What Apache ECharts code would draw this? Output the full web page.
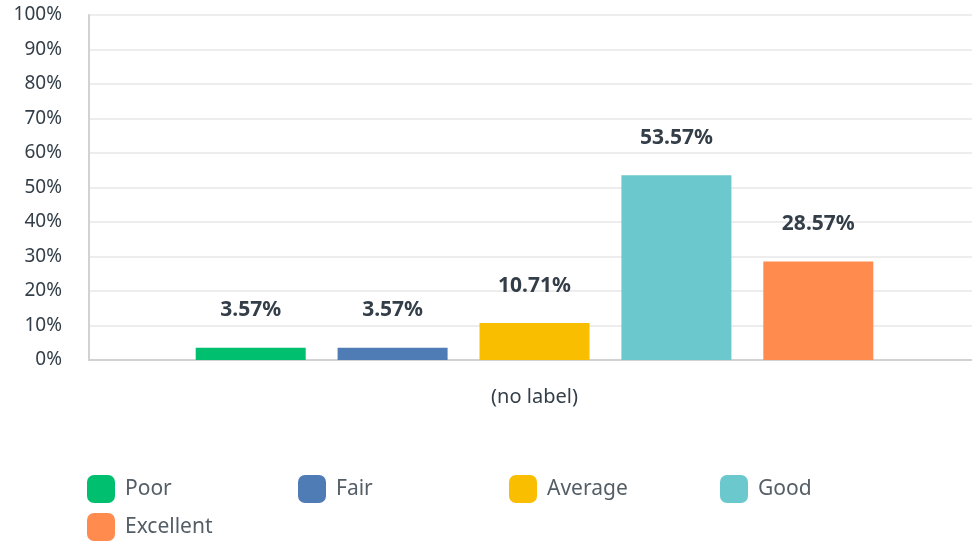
<!DOCTYPE html>
<html>
<head>
<meta charset="utf-8">
<script src="https://cdn.jsdelivr.net/npm/echarts@6/dist/echarts.min.js"></script>
<style>
  html, body { margin: 0; padding: 0; background: #fff; }
  #chart { width: 972px; height: 542px; }
</style>
</head>
<body>
<div id="chart"></div>
<script>
// Rating breakdown for a single unnamed question
const categories = ['(no label)'];
const seriesNames = ['Poor', 'Fair', 'Average', 'Good', 'Excellent'];
const seriesValues = [[3.57], [3.57], [10.71], [53.57], [28.57]];
const seriesColors = ['#00bf6f', '#507cb6', '#f9be00', '#6bc8cd', '#ff8b4f'];
const yTicks = { min: 0, max: 100, interval: 10 };

const FONT = '"Noto Sans", sans-serif';
const chart = echarts.init(document.getElementById('chart'));

chart.setOption({
  animation: false,
  grid: { left: 89, right: -8, top: 15, bottom: 182, outerBoundsMode: 'none' },
  xAxis: {
    type: 'category',
    data: categories,
    axisLine: { lineStyle: { color: '#d0d2d3', width: 2 } },
    axisTick: { show: false },
    axisLabel: { color: '#333e48', fontSize: 20, fontFamily: FONT, margin: 27 }
  },
  yAxis: {
    type: 'value',
    min: yTicks.min, max: yTicks.max, interval: yTicks.interval,
    axisLine: { show: true, lineStyle: { color: '#d0d2d3', width: 2 } },
    axisTick: { show: false },
    splitLine: { lineStyle: { color: '#ededed', width: 2 } },
    axisLabel: { color: '#333e48', fontSize: 19, fontFamily: FONT, margin: 27, formatter: '{value}%' }
  },
  legend: {
    left: 87, top: 470, width: 880, padding: 0,
    itemWidth: 28, itemHeight: 28, itemGap: 0,
    icon: 'roundRect',
    textStyle: { color: '#545e66', fontSize: 21, fontFamily: FONT, width: 173, height: 38, lineHeight: 38, padding: [0, 0, 0, 5] },
    data: seriesNames
  },
  series: seriesNames.map((name, i) => ({
    name,
    type: 'bar',
    data: seriesValues[i],
    barWidth: 110,
    barGap: '29%',
    itemStyle: { color: seriesColors[i] },
    label: {
      show: true, position: 'top', distance: 27,
      formatter: p => p.value.toFixed(2) + '%',
      color: '#333e48', fontSize: 21, fontWeight: 'bold', fontFamily: FONT
    }
  }))
});
</script>
</body>
</html>
